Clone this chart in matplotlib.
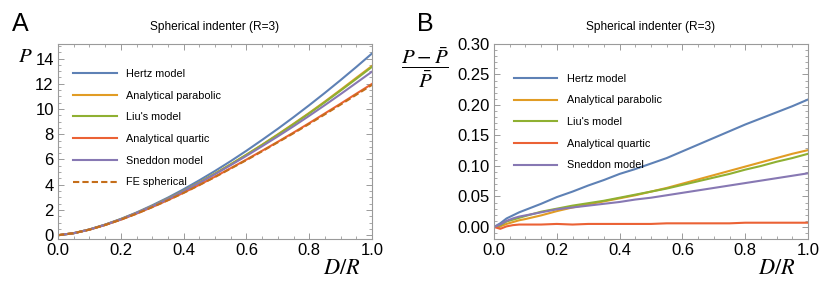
import matplotlib.pyplot as plt
from matplotlib.ticker import MultipleLocator

plt.rcParams['font.family'] = ['Liberation Sans', 'DejaVu Sans']
plt.rcParams['mathtext.fontset'] = 'stix'

# Panel A: load P vs D/R
x_a = [0.0, 0.05, 0.1, 0.15, 0.2, 0.25, 0.3, 0.35, 0.4, 0.45, 0.5,
       0.55, 0.6, 0.65, 0.7, 0.75, 0.8, 0.85, 0.9, 0.95, 1.0]
hertz_a = [0, 0.16, 0.46, 0.84, 1.29, 1.80, 2.37, 2.98, 3.64, 4.35, 5.09,
           5.87, 6.69, 7.55, 8.43, 9.35, 10.30, 11.28, 12.29, 13.33, 14.40]
parab_a = [0, 0.16, 0.45, 0.82, 1.26, 1.76, 2.30, 2.89, 3.51, 4.18, 4.88,
           5.62, 6.38, 7.17, 7.99, 8.83, 9.69, 10.59, 11.52, 12.47, 13.41]
liu_a = [0, 0.16, 0.45, 0.83, 1.27, 1.76, 2.30, 2.89, 3.51, 4.18, 4.88,
         5.61, 6.37, 7.15, 7.96, 8.79, 9.65, 10.54, 11.46, 12.39, 13.34]
quart_a = [0, 0.16, 0.44, 0.81, 1.23, 1.71, 2.23, 2.78, 3.37, 3.99, 4.64,
           5.31, 5.99, 6.69, 7.40, 8.13, 8.88, 9.65, 10.42, 11.21, 11.99]
sned_a = [0, 0.16, 0.45, 0.83, 1.26, 1.76, 2.29, 2.87, 3.49, 4.15, 4.83,
          5.55, 6.29, 7.05, 7.83, 8.63, 9.46, 10.31, 11.18, 12.07, 12.96]
fe_a = [0, 0.16, 0.44, 0.81, 1.23, 1.70, 2.22, 2.77, 3.35, 3.97, 4.61,
        5.28, 5.95, 6.65, 7.36, 8.08, 8.82, 9.58, 10.35, 11.13, 11.91]

# Panel B: relative error (P - Pbar)/Pbar
x_b = [0.0, 0.02, 0.04, 0.06, 0.08, 0.1, 0.15, 0.2, 0.25, 0.3, 0.35, 0.4,
       0.45, 0.5, 0.55, 0.6, 0.65, 0.7, 0.75, 0.8, 0.85, 0.9, 0.95, 1.0]
hertz_b = [0, 0.006, 0.014, 0.019, 0.024, 0.028, 0.038, 0.049, 0.058, 0.068,
           0.077, 0.087, 0.095, 0.104, 0.113, 0.124, 0.135, 0.146, 0.157,
           0.168, 0.178, 0.188, 0.198, 0.209]
parab_b = [0, 0.001, 0.005, 0.008, 0.011, 0.013, 0.019, 0.026, 0.032, 0.037,
           0.042, 0.047, 0.052, 0.058, 0.064, 0.071, 0.078, 0.085, 0.092,
           0.099, 0.106, 0.113, 0.120, 0.126]
liu_b = [0, 0.003, 0.009, 0.012, 0.015, 0.018, 0.025, 0.030, 0.035, 0.039,
         0.043, 0.048, 0.053, 0.058, 0.063, 0.069, 0.075, 0.081, 0.087,
         0.094, 0.100, 0.107, 0.113, 0.120]
quart_b = [0, -0.003, 0.001, 0.003, 0.004, 0.004, 0.004, 0.005, 0.004, 0.005,
           0.005, 0.005, 0.005, 0.005, 0.006, 0.006, 0.006, 0.006, 0.006,
           0.007, 0.007, 0.007, 0.007, 0.007]
sned_b = [0, 0.004, 0.010, 0.014, 0.017, 0.019, 0.024, 0.029, 0.032, 0.035,
          0.038, 0.041, 0.045, 0.048, 0.052, 0.056, 0.060, 0.064, 0.068,
          0.072, 0.076, 0.080, 0.084, 0.088]

labels = ['Hertz model', 'Analytical parabolic', "Liu's model",
          'Analytical quartic', 'Sneddon model', 'FE spherical']
colors = ['#5E81B5', '#E19C24', '#8FB032', '#EB6235', '#8778B3', '#C56E1A']

fig = plt.figure(figsize=(8.3, 2.88), dpi=100)
W, H = 830, 288


def make_axes(x0, x1, y0, y1):
    return fig.add_axes([x0 / W, 1 - y1 / H, (x1 - x0) / W, (y1 - y0) / H])


def style(ax):
    for s in ax.spines.values():
        s.set_color('#9a9a9a')
        s.set_linewidth(0.8)
    ax.tick_params(which='both', direction='in', top=True, right=True,
                   color='#9a9a9a', labelsize=12, pad=3)
    ax.tick_params(which='major', length=4.5, width=0.7)
    ax.tick_params(which='minor', length=2.5, width=0.6)
    ax.xaxis.set_major_locator(MultipleLocator(0.2))
    ax.xaxis.set_minor_locator(MultipleLocator(0.05))
    ax.xaxis.set_major_formatter(plt.FormatStrFormatter('%.1f'))
    ax.set_xlim(0, 1.0)


lw = 1.5
leg_kw = dict(loc='upper left', frameon=False, fontsize=7.8, handlelength=4.0,
              handletextpad=0.9, labelspacing=1.08, borderaxespad=0)

# ---- Panel A ----
axA = make_axes(58, 372, 44, 239)
style(axA)
series_a = [hertz_a, parab_a, liu_a, quart_a, sned_a]
for ys, c, lab in zip(series_a, colors[:5], labels[:5]):
    axA.plot(x_a, ys, color=c, lw=lw, label=lab)
axA.plot(x_a, fe_a, color=colors[5], lw=lw, ls=(0, (3, 1.5)), label=labels[5])
axA.set_ylim(-0.3, 15.15)
axA.yaxis.set_major_locator(MultipleLocator(2))
axA.yaxis.set_minor_locator(MultipleLocator(0.5))
axA.legend(bbox_to_anchor=(0.035, 0.895), **leg_kw)
axA.set_title('Spherical indenter (R=3)', fontsize=8.6, pad=10)

fig.text(25 / W, 1 - 57 / H, '$P$', fontsize=15, ha='center', va='center')
fig.text(342 / W, 1 - 268 / H, '$D/R$', fontsize=16, ha='center', va='center')
fig.text(20 / W, 1 - 24 / H, 'A', fontsize=18, ha='center', va='center')

# ---- Panel B ----
axB = make_axes(494, 808, 44, 239)
style(axB)
series_b = [hertz_b, parab_b, liu_b, quart_b, sned_b]
for ys, c, lab in zip(series_b, colors[:5], labels[:5]):
    axB.plot(x_b, ys, color=c, lw=lw, label=lab)
axB.set_ylim(-0.0197, 0.30)
axB.yaxis.set_major_locator(MultipleLocator(0.05))
axB.yaxis.set_minor_locator(MultipleLocator(0.01))
axB.yaxis.set_major_formatter(plt.FormatStrFormatter('%.2f'))
axB.legend(bbox_to_anchor=(0.05, 0.87), **leg_kw)
axB.set_title('Spherical indenter (R=3)', fontsize=8.6, pad=10)

fig.text(425 / W, 1 - 68 / H, r'$\dfrac{P-\bar{P}}{\bar{P}}$', fontsize=15,
         ha='center', va='center')
fig.text(777 / W, 1 - 268 / H, '$D/R$', fontsize=16, ha='center', va='center')
fig.text(425 / W, 1 - 24 / H, 'B', fontsize=18, ha='center', va='center')

fig.savefig('out.png', dpi=100)
